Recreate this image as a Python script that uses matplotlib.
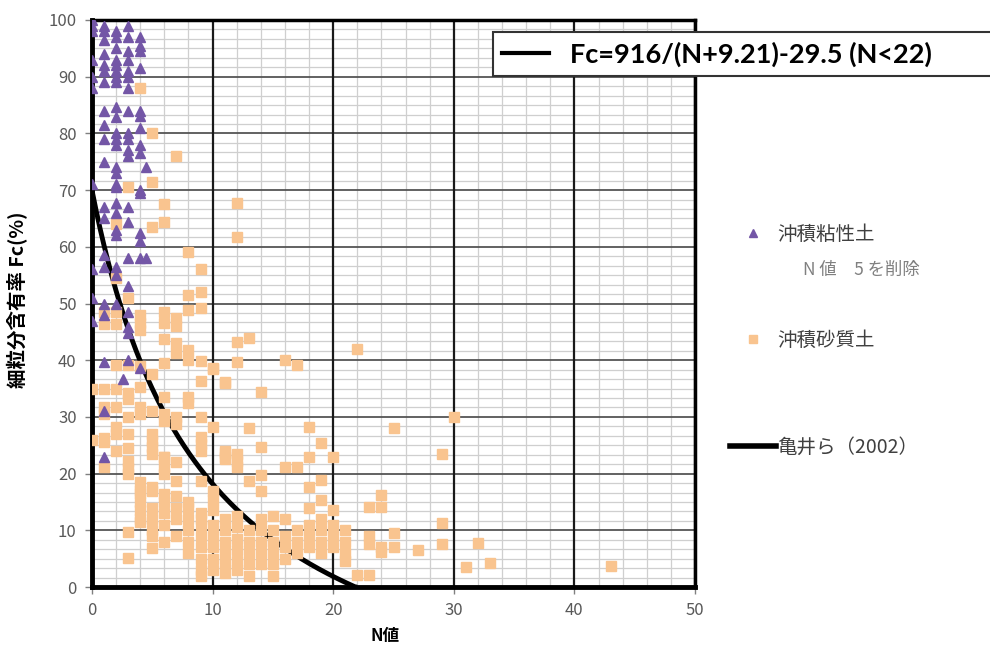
import numpy as np
import matplotlib
matplotlib.use("Agg")
import matplotlib.pyplot as plt
from matplotlib.lines import Line2D
from matplotlib.ticker import MultipleLocator

plt.rcParams['font.family'] = ['Noto Sans CJK JP', 'DejaVu Sans']

# 沖積粘性土 (N値, Fc)
clay_n = ([0] * 10 + [1] * 20 + [2] * 24 + [2.6] + [3] * 20 + [4] * 15 + [4.5] * 2)
clay_fc = [100, 99, 98, 93, 90, 88, 71, 56, 51, 47,
           99, 98, 96.5, 94, 92, 91, 89, 84, 81.5, 79, 75, 67, 65, 58.6, 56.4, 50, 48, 39.6, 31, 23,
           98, 97, 95, 93, 92, 91, 90, 89, 84.7, 82.9, 80, 79, 78, 74, 73, 71, 70.5, 67.7, 66, 63, 62, 56.4, 55, 50,
           36.7,
           99, 97, 94.5, 93, 91, 90, 88, 84, 80, 79, 77, 76, 67, 64.4, 58, 53, 48.5, 45.9, 44.8, 40,
           97, 95.5, 94.5, 91.5, 84, 83, 81, 78, 76.5, 70, 69.5, 62.5, 61, 58, 38.6,
           74, 58]

# 沖積砂質土: N値ごとの Fc
sand_fc_by_n = [
    (0, [35, 26]),
    (1, [48.5, 46.4, 35, 31.7, 30.5, 26.3, 25.5, 21.2]),
    (2, [48.5, 46.4, 64, 54.5, 39.2, 35, 31.7, 28.2, 27, 24]),
    (3, [70.5, 51, 39.2, 34.3, 33.1, 29.9, 27, 24.5, 22.3, 21, 20, 9.7, 5.1]),
    (4, [88, 48, 46.6, 45.4, 38.9, 35.2, 31.7, 30.5, 18.5, 17, 16.5, 15, 13.5, 12, 11.5]),
    (5, [80, 71.5, 63.5, 37.5, 31, 27, 25.8, 24.7, 23.5, 17.6, 17, 14, 12, 10, 9, 6.9]),
    (6, [67.5, 64.4, 48.5, 46.5, 43.8, 39.5, 33.5, 30.5, 29.3, 23, 22.9, 21.2, 20, 16.4, 15, 13, 11, 8]),
    (7, [76, 47.5, 46, 43, 41.2, 29.9, 28.8, 22, 18.7, 16, 14, 12, 9]),
    (8, [59, 51.5, 48.8, 41.8, 40, 33.5, 32.4, 15, 14, 12, 10, 8, 6]),
    (9, [56, 52, 49.2, 39.8, 36.3, 29.9, 26.5, 25.2, 24, 18.7, 13, 12, 11, 9, 7, 5, 3, 2]),
    (10, [38.6, 38.5, 28.2, 17, 15.3, 13.6, 11, 9, 7, 5, 3]),
    (11, [36.2, 36, 24, 22.9, 23.7, 22.5, 12, 10, 8, 6, 4, 2.5]),
    (12, [67.7, 61.7, 43.2, 39.7, 23.5, 22.3, 21.2, 12.5, 10.5, 8.5, 6.5, 4.5, 3]),
    (13, [44, 28, 18.7, 10, 8, 6, 4, 2]),
    (14, [34.4, 24.7, 19.7, 17, 12, 10, 8, 6, 4]),
    (15, [12.5, 10, 8, 6, 4, 2]),
    (16, [40, 21.2, 12, 9, 7, 5]),
    (17, [39.2, 21.1, 10, 8, 6]),
    (18, [28.2, 22.9, 17.6, 14, 11, 9, 7]),
    (19, [25.4, 18.9, 15.3, 12, 10, 8, 6]),
    (20, [22.9, 13.5, 11, 9, 7]),
    (21, [10, 8, 6, 4.5]),
    (22, [42, 2.1]),
    (23, [14.1, 9, 7.5, 2.1]),
    (24, [16.2, 14.1, 7, 6.2]),
    (25, [28, 9.5, 7]),
    (27, [6.5]),
    (29, [23.5, 11.3, 7.5]),
    (30, [30]),
    (31, [3.6]),
    (32, [7.8]),
    (33, [4.2]),
    (43, [3.7]),
]
sand_n = [n for n, vals in sand_fc_by_n for _ in vals]
sand_fc = [v for n, vals in sand_fc_by_n for v in vals]

# 亀井ら(2002): Fc = a/(N+b) - c  (N<22)
kamei_a, kamei_b, kamei_c = 916, 9.21, 29.5
kamei_n = np.linspace(0, 22, 200)
kamei_fc = np.clip(kamei_a / (kamei_n + kamei_b) - kamei_c, 0, None)

purple = '#7356A6'
orange = '#F9C48F'

fig = plt.figure(figsize=(9.9, 6.46), dpi=100)
ax = fig.add_axes([92 / 990, 59 / 646, 603 / 990, 567 / 646])

ax.plot(kamei_n, kamei_fc, color='black', lw=3.5, zorder=3, solid_capstyle='butt')
ax.plot(sand_n, sand_fc, 's', color=orange, ms=7, ls='none', zorder=4)
ax.plot(clay_n, clay_fc, '^', color=purple, ms=7, ls='none', zorder=5)

ax.set_xlim(0, 50)
ax.set_ylim(0, 100)
ax.xaxis.set_major_locator(MultipleLocator(10))
ax.xaxis.set_minor_locator(MultipleLocator(2))
ax.yaxis.set_major_locator(MultipleLocator(10))
ax.yaxis.set_minor_locator(MultipleLocator(10 / 6))

# 補助目盛線を下に、主目盛線をその上に
ax.grid(True, which='minor', color='#cfcfcf', lw=0.9)
ax.set_axisbelow(True)
for y in ax.get_yticks()[1:-1]:
    ax.axhline(y, color='#555555', lw=1.3, zorder=1)
for x in ax.get_xticks()[1:-1]:
    ax.axvline(x, color='#1a1a1a', lw=1.6, zorder=1.1)

for side, lw in [('left', 3.5), ('bottom', 3.5), ('top', 2.5), ('right', 2.5)]:
    ax.spines[side].set_linewidth(lw)
    ax.spines[side].set_color('black')

ax.tick_params(which='major', direction='out', length=5, width=1, color='#808080',
               labelcolor='#595959', labelsize=12, pad=6)
ax.tick_params(which='minor', length=0)

ax.set_xlabel('N値', fontsize=12, fontweight='bold', va='center')
ax.set_ylabel('細粒分含有率 Fc(%)', fontsize=14, fontweight='bold', va='center')
ax.xaxis.set_label_coords((385 - 92) / 603, -(636 - 587) / 567)
ax.yaxis.set_label_coords((18 - 92) / 603, (587 - 300) / 567)

# 上部の式の凡例
leg1 = fig.legend(handles=[Line2D([], [], color='black', lw=3)],
                  labels=['Fc=916/(N+9.21)-29.5 (N<22)'],
                  loc='upper left', mode='expand',
                  bbox_to_anchor=(493 / 990, 1 - 84 / 646, 1 - 493 / 990 + 0.01, 52 / 646),
                  borderaxespad=0, fancybox=False, framealpha=1, edgecolor='#333333',
                  handlelength=1.7, handletextpad=0.8, borderpad=0.35,
                  prop={'family': 'Lato', 'weight': 'bold', 'size': 19.5})
leg1.get_frame().set_linewidth(1.5)

# 右側の凡例
handles = [Line2D([], [], marker='^', color=purple, ls='none', ms=6),
           Line2D([], [], marker='s', color=orange, ls='none', ms=6),
           Line2D([], [], color='black', lw=4)]
labels = ['沖積粘性土', '沖積砂質土', '亀井ら（2002）']
leg2 = fig.legend(handles=handles, labels=labels, loc='upper left',
                  bbox_to_anchor=(712 / 990, 1 - 206 / 646), frameon=False,
                  handlelength=2.4, handletextpad=0.05, labelspacing=4.4,
                  prop={'family': ['Noto Sans CJK JP', 'DejaVu Sans'], 'size': 14})
for t in leg2.get_texts():
    t.set_color('#404040')

fig.text(803 / 990, 1 - 270 / 646, 'N 値\u30005 を削除', fontsize=12.5, color='#808080',
         va='center', ha='left')

fig.savefig('out.png', dpi=100)
